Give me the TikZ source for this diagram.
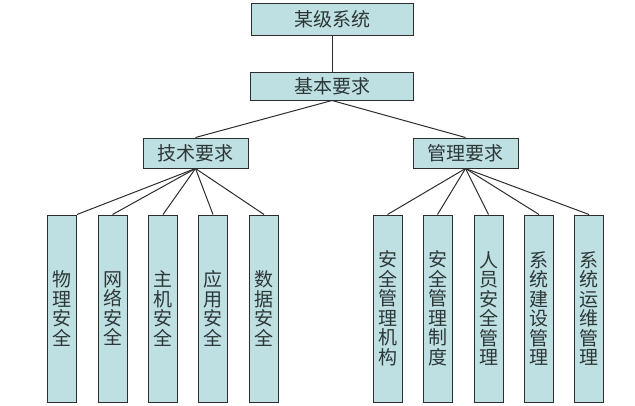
\documentclass[tikz,border=0pt]{standalone}
\usepackage{fontspec}
\newfontfamily\cjk{Noto Sans CJK SC}
\usepackage{tikz}
\usetikzlibrary{positioning}
\definecolor{lvFill}{RGB}{190, 224, 226}
\definecolor{lvLine}{RGB}{45, 45, 45}
\definecolor{lvText}{RGB}{45, 55, 55}
\tikzset{
    base/.style={
        font=\cjk\fontsize{19}{19.5}\selectfont,
        align=center,
        text=lvText
    },
    headbox/.style={
        base,
        rectangle,
        draw=lvLine,
        line width=1pt,
        fill=lvFill,
        inner sep=0pt
    },
    leafbox/.style={
        headbox,
        minimum width=29pt,
        minimum height=187pt
    },
    link/.style={
        line width=1pt,
        color=lvLine
    }
}
\begin{document}
\begin{tikzpicture}[x=1pt, y=-1pt]
  \useasboundingbox (0,0) rectangle (635,405);

  % Top levels
  \node[headbox, minimum width=162pt, minimum height=32pt] (sys) at (332,19) {某级系统};
  \node[headbox, minimum width=163pt, minimum height=28pt] (req) at (332,86) {基本要求};
  \draw[link] (sys) -- (req);

  % Second level
  \node[headbox, minimum width=105pt, minimum height=30pt] (tech) at (195.5,153) {技术要求};
  \node[headbox, minimum width=105pt, minimum height=30pt] (mgmt) at (465.5,153) {管理要求};
  \draw[link] (req.south) -- (tech.north);
  \draw[link] (req.south) -- (mgmt.north);

  % Technical leaves
  \node[leafbox] (t1) at (62,308.5) {物\\理\\安\\全};
  \node[leafbox] (t2) at (112.5,308.5) {网\\络\\安\\全};
  \node[leafbox] (t3) at (163,308.5) {主\\机\\安\\全};
  \node[leafbox] (t4) at (213,308.5) {应\\用\\安\\全};
  \node[leafbox] (t5) at (264,308.5) {数\\据\\安\\全};

  \draw[link] (tech.south) -- (t1.north east);
  \draw[link] (tech.south) -- (t2.north);
  \draw[link] (tech.south) -- (t3.north);
  \draw[link] (tech.south) -- (t4.north);
  \draw[link] (tech.south) -- (t5.north);

  % Management leaves
  \node[leafbox] (m1) at (387.5,308.5) {安\\全\\管\\理\\机\\构};
  \node[leafbox] (m2) at (437.5,308.5) {安\\全\\管\\理\\制\\度};
  \node[leafbox] (m3) at (488.5,308.5) {人\\员\\安\\全\\管\\理};
  \node[leafbox] (m4) at (539,308.5) {系\\统\\建\\设\\管\\理};
  \node[leafbox] (m5) at (589,308.5) {系\\统\\运\\维\\管\\理};

  \draw[link] (mgmt.south) -- (m1.north);
  \draw[link] (mgmt.south) -- (m2.north);
  \draw[link] (mgmt.south) -- (m3.north);
  \draw[link] (mgmt.south) -- (m4.north);
  \draw[link] (mgmt.south) -- (m5.north);
\end{tikzpicture}
\end{document}
